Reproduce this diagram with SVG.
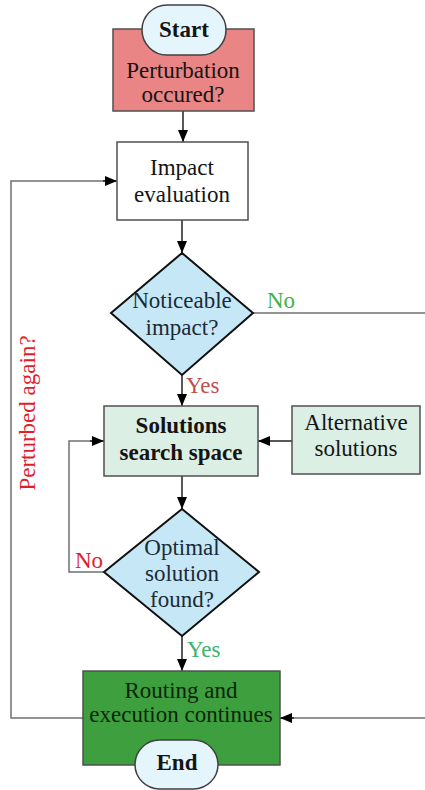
<svg xmlns="http://www.w3.org/2000/svg" width="425" height="790" viewBox="0 0 425 790">
<style>
text{font-family:"Liberation Serif","Times New Roman",serif;font-size:23px;fill:#141414;text-anchor:middle}
.b{font-weight:bold}
.box{stroke:#505050;stroke-width:1.5}
.dia{fill:#c6e8f6;stroke:#111;stroke-width:2}
.term{fill:#e4f5fb;stroke:#404040;stroke-width:1.5}
.c{fill:none;stroke:#707070;stroke-width:1.5}
.a{fill:none;stroke:#222;stroke-width:1.5;marker-end:url(#ah)}
.dt{fill:#1b2a36}
</style>
<defs>
<marker id="ah" markerWidth="12" markerHeight="10" refX="12" refY="5" orient="auto" markerUnits="userSpaceOnUse">
<path d="M0,0 L12,5 L0,10 Z" fill="#000"/>
</marker>
</defs>
<g id="connectors">
<path class="a" d="M183,111 V142"/>
<path class="a" d="M182,220 V253"/>
<path class="c" d="M253,313 H425"/>
<path class="a" d="M182,375 V406"/>
<path class="a" d="M292,441 H258"/>
<path class="a" d="M182,476 V509"/>
<path class="c" d="M104,572 H69 V441 H92"/>
<path class="a" d="M90,441 H104"/>
<path class="a" d="M182,636 V671"/>
<path class="c" d="M425,718 H292"/>
<path class="a" d="M294,718 H280"/>
<path class="c" d="M83,718 H11 V181 H105"/>
<path class="a" d="M103,181 H117"/>
<text x="267" y="308" style="text-anchor:start;fill:#3fb34a">No</text>
<text x="186" y="393" style="text-anchor:start;fill:#c0504d">Yes</text>
<text x="75" y="568" style="text-anchor:start;fill:#e01e2a">No</text>
<text x="187" y="657" style="text-anchor:start;fill:#3cb371">Yes</text>
<text transform="translate(35,413) rotate(-90)" style="fill:#e01e2a">Perturbed again?</text>
</g>
<g id="perturbation">
<rect class="box" x="113" y="29" width="141" height="82" fill="#ea8585"/>
<text x="183" y="78">Perturbation</text>
<text x="183" y="102">occured?</text>
</g>
<g id="start">
<rect class="term" x="142" y="5" width="84" height="50" rx="25"/>
<text class="b" x="184" y="37">Start</text>
</g>
<g id="impact">
<rect class="box" x="117" y="142" width="131" height="78" fill="#fff"/>
<text x="182" y="175">Impact</text>
<text x="182" y="202">evaluation</text>
</g>
<g id="noticeable">
<path class="dia" d="M182,253 L253,313 L182,375 L111,313 Z"/>
<text class="dt" x="182" y="308">Noticeable</text>
<text class="dt" x="182" y="335">impact?</text>
</g>
<g id="solutions">
<rect class="box" x="104" y="406" width="154" height="70" fill="#dcefe4"/>
<text class="b" x="181" y="433">Solutions</text>
<text class="b" x="181" y="460">search space</text>
</g>
<g id="alternative">
<rect class="box" x="292" y="406" width="128" height="68" fill="#dcefe4"/>
<text x="356" y="430">Alternative</text>
<text x="356" y="456">solutions</text>
</g>
<g id="optimal">
<path class="dia" d="M182,509 L259,572 L182,636 L104,572 Z"/>
<text class="dt" x="182" y="555">Optimal</text>
<text class="dt" x="182" y="581">solution</text>
<text class="dt" x="182" y="607">found?</text>
</g>
<g id="routing">
<rect class="box" x="83" y="671" width="197" height="94" fill="#3d9f3d"/>
<text x="181" y="698" style="fill:#0d250d">Routing and</text>
<text x="181" y="722" style="fill:#0d250d">execution continues</text>
</g>
<g id="end">
<rect class="term" x="135" y="740" width="83" height="49" rx="24.5"/>
<text class="b" x="177" y="770">End</text>
</g>
</svg>
